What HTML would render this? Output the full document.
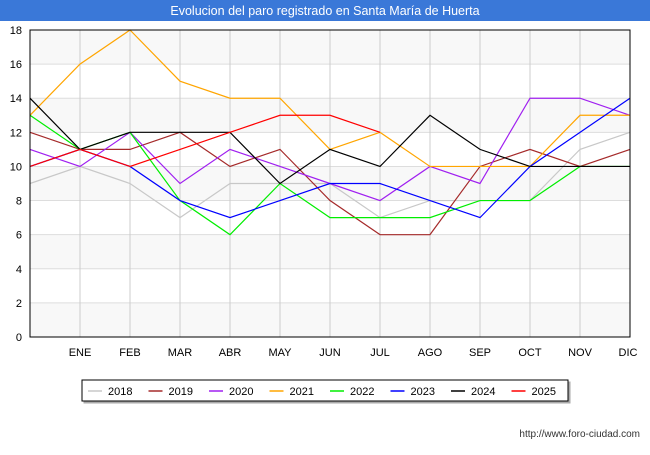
<!DOCTYPE html>
<html><head><meta charset="utf-8"><style>
body{margin:0;width:650px;height:450px;background:#fff;font-family:"Liberation Sans",sans-serif;overflow:hidden}
</style></head><body>
<svg width="650" height="450" font-family="Liberation Sans, sans-serif">
<rect x="0" y="0" width="650" height="21" fill="#3a78d8"/>
<text x="325" y="15" text-anchor="middle" fill="#fff" font-size="12.5">Evolucion del paro registrado en Santa María de Huerta</text>
<g id="plot"></g>
<rect x="82" y="380" width="486" height="21" fill="#fff" stroke="#000" style="filter:drop-shadow(2px 2px 0 #aaa)"/>
<g id="legend"></g>
<text x="640" y="437" text-anchor="end" font-size="10" fill="#333">http://www.foro-ciudad.com</text>
</svg>
<script>
const months=["","ENE","FEB","MAR","ABR","MAY","JUN","JUL","AGO","SEP","OCT","NOV","DIC"];
const yTicks=[0,2,4,6,8,10,12,14,16,18];
const years=["2018","2019","2020","2021","2022","2023","2024","2025"];
const colors=["#c8c8c8","#a52a2a","#a020f0","#ffa500","#00ee00","#0000ff","#000000","#ff0000"];
const s2018=[9,10,9,7,9,9,9,7,8,8,8,11,12];
const s2019=[12,11,11,12,10,11,8,6,6,10,11,10,11];
const s2020=[11,10,12,9,11,10,9,8,10,9,14,14,13];
const s2021=[13,16,18,15,14,14,11,12,10,10,10,13,13];
const s2022=[13,11,12,8,6,9,7,7,7,8,8,10,10];
const s2023=[10,11,10,8,7,8,9,9,8,7,10,12,14];
const s2024=[14,11,12,12,12,9,11,10,13,11,10,10,10];
const s2025=[10,11,10,11,12,13,13,12,null,null,null,null,null];
const series=[s2018,s2019,s2020,s2021,s2022,s2023,s2024,s2025];
const X0=30,X1=630,Y0=337,Y1=30;
const xs=i=>X0+i*(X1-X0)/12, ys=v=>Y0-(v/18)*(Y0-Y1);
const NS="http://www.w3.org/2000/svg";
const plot=document.getElementById('plot');
function mk(t,a,p){const e=document.createElementNS(NS,t);for(const k in a)e.setAttribute(k,a[k]);(p||plot).appendChild(e);return e;}
for(let i=0;i<9;i++){const r=mk('rect',{x:X0,y:ys(yTicks[i+1]),width:X1-X0,height:ys(yTicks[i])-ys(yTicks[i+1]),fill:i%2?'#fff':'#f8f8f8'});

}
yTicks.forEach(v=>{const l=mk('line',{x1:X0,x2:X1,y1:ys(v),y2:ys(v),stroke:'#ddd'});


const t=mk('text',{x:X0-8,y:ys(v)+4,'text-anchor':'end','font-size':11});t.textContent=v;

});
months.forEach((m,i)=>{if(i>0){const l=mk('line',{x1:xs(i),x2:xs(i),y1:Y1,y2:Y0,stroke:'#ccc'});

}
const t=mk('text',{x:xs(i)-(i==12?2:0),y:Y0+19,'text-anchor':'middle','font-size':11});t.textContent=m;

});
series.forEach((s,k)=>{let d='';s.forEach((v,i)=>{if(v!==null)d+=(d?'L':'M')+xs(i)+' '+ys(v);});
const p=mk('path',{d:d,fill:'none',stroke:colors[k],'stroke-width':1.2});

});
const fr=mk('rect',{x:X0,y:Y1,width:X1-X0,height:Y0-Y1,fill:'none',stroke:'#000'});


const lg=document.getElementById('legend');
years.forEach((y,k)=>{const x=88+k*60.5;
const l=mk('line',{x1:x,x2:x+14,y1:391,y2:391,stroke:colors[k],'stroke-width':1.5},lg);


const t=mk('text',{x:x+20,y:395,'font-size':11},lg);t.textContent=y;

});
</script>
</body></html>
